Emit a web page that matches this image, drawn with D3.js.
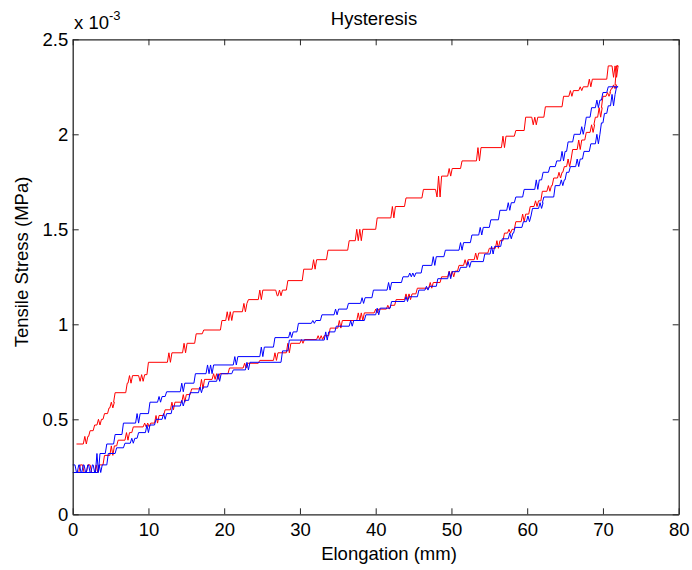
<!DOCTYPE html>
<html>
<head>
<meta charset="utf-8">
<script src="https://cdn.jsdelivr.net/npm/d3@7/dist/d3.min.js"></script>
<style>
  html, body { margin: 0; padding: 0; background: #ffffff; }
  svg { display: block; }
  text { font-family: "Liberation Sans", Arial, Helvetica, sans-serif; fill: #000; }
</style>
</head>
<body>
<script>
// ---- Data (stress in units of 1e-3 MPa, elongation in mm); [x, level, zigzags] ----
const title = "Hysteresis";
const xLabel = "Elongation (mm)";
const yLabel = "Tensile Stress (MPa)";
const xTicks = [0, 10, 20, 30, 40, 50, 60, 70, 80];
const yTicks = [0, 0.5, 1, 1.5, 2, 2.5];
const yTickLabels = ["0", "0.5", "1", "1.5", "2", "2.5"];

const redLoading = [
  [0.3,0.22,0],[0.8,0.26,0],[1.3,0.22,0],[1.8,0.26,0],[2.3,0.22,0],[2.9,0.26,1],[4.0,0.31,0],
  [4.9,0.36,1],[5.8,0.39,0],[6.9,0.43,1],[7.8,0.46,0],[9.3,0.48,2],[10.8,0.52,1],[12.0,0.55,0],
  [12.9,0.59,1],[14.4,0.63,1],[15.5,0.66,0],[16.8,0.71,1],[18.4,0.74,2],[20.5,0.77,0],
  [22.5,0.795,1],[24.5,0.81,0],[26.5,0.85,1],[28.2,0.90,1],[30.0,0.92,1],[32.2,0.94,2],
  [33.8,0.98,0],[35.0,1.02,1],[37.5,1.06,2],[39.8,1.08,1],[41.4,1.10,1],[42.5,1.13,0],
  [43.8,1.16,2],[45.3,1.19,0],[47.0,1.22,1],[48.5,1.25,0],[49.5,1.28,2],[50.8,1.31,0],
  [51.6,1.34,1],[53.0,1.375,1],[54.8,1.40,0],[55.8,1.44,1],[56.8,1.48,0],[57.4,1.50,1],
  [58.3,1.54,0],[59.2,1.58,1],[60.2,1.62,0],[60.9,1.65,1],[61.8,1.70,0],[62.6,1.73,1],
  [63.3,1.77,0],[64.0,1.80,1],[64.7,1.83,0],[65.2,1.87,1],[65.8,1.92,0],[66.6,1.97,1],
  [67.6,2.01,0],[68.3,2.05,1],[68.8,2.09,0],[69.3,2.14,1],[69.8,2.20,0],[70.4,2.22,1],
  [70.9,2.24,0],[71.2,2.26,1],[71.6,2.36,0]
];

const redUnloading = [
  [0.5,0.37,0],[1.4,0.41,1],[2.1,0.44,0],[2.7,0.47,0],[3.2,0.50,1],[4.0,0.53,0],[4.6,0.56,0],
  [4.9,0.59,1],[5.4,0.64,0],[7.0,0.69,0],[7.3,0.73,1],[8.7,0.70,0],[8.9,0.735,1],[9.8,0.80,0],
  [12.5,0.85,1],[14.5,0.90,1],[16.1,0.95,0],[17.1,0.97,0],[19.5,1.02,0],[20.2,1.066,2],
  [22.4,1.11,1],[23.0,1.13,0],[24.5,1.18,1],[26.8,1.15,0],[27.1,1.18,1],[28.2,1.23,0],
  [30.3,1.29,0],[31.6,1.34,1],[33.5,1.39,0],[36.3,1.44,0],[37.3,1.50,2],[40.0,1.56,0],
  [42.0,1.62,1],[43.8,1.665,0],[46.1,1.71,0],[47.9,1.67,0],[48.1,1.78,1],[49.5,1.82,1],
  [51.2,1.86,0],[53.3,1.93,1],[56.6,1.99,1],[58.3,2.02,0],[59.6,2.09,0],[60.6,2.05,0],
  [60.8,2.09,1],[62.2,2.145,0],[64.6,2.20,0],[65.5,2.23,1],[66.8,2.25,1],[68.0,2.29,1],
  [70.5,2.36,0],[71.2,2.30,0],[71.4,2.36,1],[71.8,2.36,0]
];

const blueUpper = [
  [0.0,0.26,0],[0.3,0.22,0],[0.6,0.26,0],[0.9,0.22,0],[1.2,0.26,0],[1.5,0.22,0],[1.8,0.26,0],
  [2.1,0.22,0],[2.4,0.26,0],[2.7,0.22,0],[3.0,0.32,1],[4.3,0.37,0],[5.4,0.42,0],[6.5,0.48,0],
  [8.3,0.53,1],[10.0,0.59,0],[11.2,0.62,1],[12.2,0.645,0],[14.2,0.69,1],[16.0,0.74,0],
  [17.6,0.786,2],[21.2,0.83,1],[24.7,0.88,1],[26.5,0.93,0],[28.5,0.96,1],[29.6,1.005,0],
  [31.5,1.02,1],[32.7,1.05,0],[34.5,1.08,1],[36.2,1.11,0],[38.0,1.14,1],[39.5,1.18,0],
  [41.5,1.22,1],[43.4,1.25,0],[44.3,1.27,2],[46.0,1.31,0],[47.4,1.356,1],[49.0,1.39,0],
  [51.0,1.43,1],[52.5,1.47,0],[53.6,1.51,1],[55.0,1.55,0],[56.2,1.60,0],[57.3,1.64,1],
  [58.3,1.67,0],[59.4,1.71,0],[61.0,1.76,1],[61.9,1.80,0],[62.8,1.83,0],[63.7,1.86,0],
  [64.4,1.91,1],[65.2,1.96,0],[66.0,2.00,0],[67.0,2.04,1],[67.6,2.09,0],[68.3,2.14,0],
  [69.0,2.18,1],[69.8,2.22,0],[70.5,2.25,0],[71.8,2.25,0]
];

const blueLower = [
  [0.0,0.22,0],[3.3,0.26,1],[4.5,0.32,0],[5.6,0.35,0],[6.7,0.374,0],[7.6,0.40,1],[8.5,0.43,0],
  [9.6,0.47,1],[10.8,0.50,0],[11.8,0.53,1],[13.0,0.57,0],[14.2,0.60,1],[15.3,0.64,0],
  [16.6,0.67,1],[17.8,0.70,0],[19.0,0.74,1],[21.0,0.76,0],[22.8,0.80,1],[27.5,0.86,0],
  [28.4,0.917,0],[33.2,0.96,1],[34.6,0.99,0],[36.5,1.02,1],[38.5,1.05,0],[40.0,1.085,1],
  [41.9,1.12,0],[43.8,1.145,1],[45.5,1.18,0],[46.5,1.20,1],[48.0,1.24,0],[49.5,1.277,1],
  [51.0,1.30,0],[52.0,1.33,1],[54.2,1.37,0],[55.1,1.41,1],[56.5,1.45,0],[57.5,1.48,1],
  [58.2,1.51,0],[59.3,1.54,0],[59.9,1.57,1],[60.5,1.61,0],[61.5,1.64,1],[62.0,1.67,0],
  [63.5,1.73,0],[64.3,1.76,1],[65.0,1.80,0],[65.5,1.83,0],[66.4,1.87,1],[67.3,1.91,0],
  [68.2,1.95,0],[69.0,2.00,1],[69.6,2.06,0],[70.0,2.11,0],[70.5,2.15,0],[71.0,2.21,1],
  [71.6,2.25,0],[71.8,2.25,0]
];

const series = [
  { name: "red loading", color: "#ff0000", data: redLoading },
  { name: "red unloading", color: "#ff0000", data: redUnloading },
  { name: "blue upper", color: "#0000ff", data: blueUpper },
  { name: "blue lower", color: "#0000ff", data: blueLower }
];

// ---- Layout ----
const W = 692, H = 570;
const plot = { left: 72.7, right: 678.7, top: 39.3, bottom: 514.3 };

const svg = d3.select("body").append("svg").attr("width", W).attr("height", H);

const x = d3.scaleLinear().domain([0, 80]).range([plot.left, plot.right]);
const y = d3.scaleLinear().domain([0, 2.5]).range([plot.bottom, plot.top]);

// staircase builder: level changes at x with a slanted riser, optional flicker zigzags
function stepPoints(data, s) {
  const pts = [[data[0][0], data[0][1]]];
  for (let i = 1; i < data.length; i++) {
    const [xi, yi, z] = data[i];
    const y0 = data[i - 1][1];
    pts.push([xi, y0]);
    let cx = xi;
    pts.push([cx += s, yi]);
    for (let k = 0; k < z; k++) {
      pts.push([cx += s, y0]);
      pts.push([cx += s, yi]);
    }
  }
  return pts;
}

const line = d3.line().x(d => x(d[0])).y(d => y(d[1]));

const gLines = svg.append("g");
series.forEach(sr => {
  gLines.append("path")
    .attr("d", line(stepPoints(sr.data, 0.2)))
    .attr("fill", "none")
    .attr("stroke", sr.color)
    .attr("stroke-width", 1)
    .attr("stroke-linejoin", "round");
});

// ---- Axes (MATLAB-style: inward ticks on all four sides) ----
const axisColor = "#262626";
const tl = 6;

const gx = svg.append("g").attr("transform", `translate(0,${plot.bottom})`)
  .call(d3.axisBottom(x).tickValues(xTicks).tickFormat(d3.format("d")).tickSizeInner(-tl).tickSizeOuter(0).tickPadding(9));
const gxt = svg.append("g").attr("transform", `translate(0,${plot.top})`)
  .call(d3.axisTop(x).tickValues(xTicks).tickFormat("").tickSizeInner(-tl).tickSizeOuter(0));
const gy = svg.append("g").attr("transform", `translate(${plot.left},0)`)
  .call(d3.axisLeft(y).tickValues(yTicks).tickFormat((d, i) => yTickLabels[i]).tickSizeInner(-tl).tickSizeOuter(0).tickPadding(4.5));
const gyr = svg.append("g").attr("transform", `translate(${plot.right},0)`)
  .call(d3.axisRight(y).tickValues(yTicks).tickFormat("").tickSizeInner(-tl).tickSizeOuter(0));

[gx, gxt, gy, gyr].forEach(g => {
  g.select(".domain").attr("stroke", axisColor).attr("stroke-width", 1.3);
  g.selectAll(".tick line").attr("stroke", axisColor).attr("stroke-width", 1);
  g.selectAll(".tick text").attr("font-size", 18.5).attr("fill", "#111")
    .attr("font-family", '"Liberation Sans", Arial, sans-serif');
});

// ---- Texts ----
svg.append("text").attr("x", 374).attr("y", 25).attr("text-anchor", "middle")
  .attr("font-size", 18.5).text(title);

svg.append("text").attr("x", 389).attr("y", 560).attr("text-anchor", "middle")
  .attr("font-size", 18.5).text(xLabel);

svg.append("text").attr("transform", "translate(28,262) rotate(-90)")
  .attr("text-anchor", "middle").attr("font-size", 18.5).text(yLabel);

const mult = svg.append("text").attr("x", 74).attr("y", 29.3).attr("font-size", 18.5);
mult.append("tspan").text("x 10");
mult.append("tspan").attr("font-size", 13).attr("dy", -9).text("-3");
</script>
</body>
</html>
